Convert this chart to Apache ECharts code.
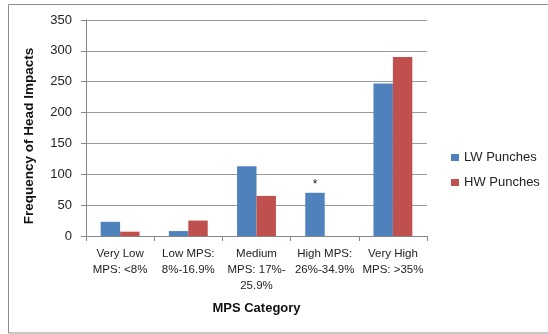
<!DOCTYPE html>
<html><head><meta charset="utf-8">
<script src="https://cdn.jsdelivr.net/npm/echarts@6/dist/echarts.min.js"></script>
<style>html,body{margin:0;padding:0;background:#fff}#c{width:548px;height:334px}</style>
</head><body><div id="c"></div>
<script>
var categories = ["Very Low\nMPS: <8%", "Low MPS:\n8%-16.9%", "Medium\nMPS: 17%-\n25.9%", "High MPS:\n26%-34.9%", "Very High\nMPS: >35%"];
var lwPunches = [23, 8, 113, 70, 247];
var hwPunches = [7, 25, 65, 0, 290];
var yTicks = {min: 0, max: 350, interval: 50};
var markedIndex = 3;

var chart = echarts.init(document.getElementById('c'), null, {renderer: 'canvas'});
var font = 'Liberation Sans, Arial, sans-serif';
chart.setOption({
  animation: false,
  backgroundColor: '#fff',
  graphic: [
    {type: 'rect', shape: {x: 8.5, y: 4.5, width: 560, height: 328.5}, style: {fill: 'none', stroke: '#8c8c8c', lineWidth: 1}, silent: true},
    {type: 'text', x: 29, y: 136, rotation: Math.PI / 2, silent: true,
     style: {text: 'Frequency of Head Impacts', fontFamily: font, fontSize: 13.5, fontWeight: 'bold', fill: '#111', align: 'center', verticalAlign: 'middle'}}
  ],
  grid: {left: 86, right: 121, top: 20, bottom: 98},
  legend: {
    orient: 'vertical', left: 451, top: 151, padding: 0, itemWidth: 8, itemHeight: 7, itemGap: 12,
    icon: 'rect',
    textStyle: {fontFamily: font, fontSize: 13, color: '#222'},
    data: ['LW Punches', 'HW Punches']
  },
  xAxis: {
    type: 'category', data: categories,
    name: 'MPS Category', nameLocation: 'middle', nameGap: 66,
    nameTextStyle: {fontFamily: font, fontSize: 13, fontWeight: 'bold', color: '#111'},
    axisLine: {lineStyle: {color: '#868686'}},
    axisTick: {show: true, length: 5, lineStyle: {color: '#868686'}},
    axisLabel: {fontFamily: font, fontSize: 11.5, color: '#222', lineHeight: 16, margin: 10, interval: 0}
  },
  yAxis: {
    type: 'value', min: yTicks.min, max: yTicks.max, interval: yTicks.interval,
    axisLine: {show: true, lineStyle: {color: '#868686'}},
    axisTick: {show: true, length: 5, lineStyle: {color: '#868686'}},
    axisLabel: {fontFamily: font, fontSize: 13, color: '#222', margin: 14},
    splitLine: {lineStyle: {color: '#9a9a9a'}}
  },
  series: [
    {name: 'LW Punches', type: 'bar', barGap: '0%', barCategoryGap: '43%',
     itemStyle: {color: '#4F81BD'},
     data: lwPunches.map(function(v, i){
       return i === markedIndex ? {value: v, label: {show: true, position: 'top', formatter: '*', distance: 2, fontFamily: font, fontSize: 12, color: '#222'}} : v;
     })},
    {name: 'HW Punches', type: 'bar', itemStyle: {color: '#C0504D'}, data: hwPunches}
  ]
});
</script></body></html>
